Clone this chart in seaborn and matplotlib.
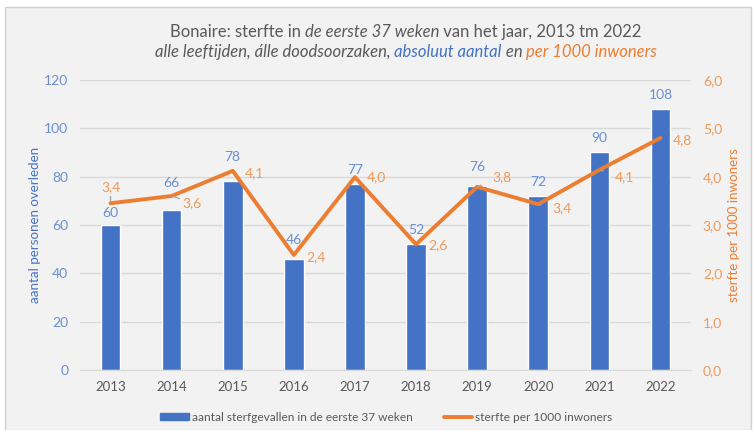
import numpy as np
import pandas as pd
import matplotlib
matplotlib.use("Agg")
import matplotlib.pyplot as plt
import seaborn as sns
from matplotlib.patches import Rectangle, Patch
from matplotlib.lines import Line2D

# data
years = ["2013", "2014", "2015", "2016", "2017", "2018", "2019", "2020", "2021", "2022"]
deaths = [60, 66, 78, 46, 77, 52, 76, 72, 90, 108]
rate = [3.45, 3.6, 4.12, 2.38, 3.99, 2.6, 3.79, 3.43, 4.14, 4.8]
rate_labels = ["3,4", "3,6", "4,1", "2,4", "4,0", "2,6", "3,8", "3,4", "4,1", "4,8"]
left_ticks = [0, 20, 40, 60, 80, 100, 120]
right_ticks = [0.0, 1.0, 2.0, 3.0, 4.0, 5.0, 6.0]

BLUE = "#4472c4"
BLUE_TXT = "#6a8fd0"
ORANGE = "#ed7d31"
ORANGE_TXT = "#f0995a"
GREY = "#595959"
BG = "#f2f2f2"

sns.set_style("white")
plt.rcParams["font.family"] = ["Lato", "DejaVu Sans"]

fig = plt.figure(figsize=(7.53, 4.30), dpi=100, facecolor="white")
fig.patches.append(Rectangle((0.007, 0.0), 0.99, 0.983, transform=fig.transFigure,
                             facecolor=BG, edgecolor="#d0d0d0", lw=1.0, zorder=-10))

ax = fig.add_axes([0.1062, 0.1395, 0.8115, 0.6745])
ax.set_facecolor("none")
df = pd.DataFrame({"year": years, "deaths": deaths, "rate": rate})

sns.barplot(data=df, x="year", y="deaths", color=BLUE, width=0.32, saturation=1, ax=ax, zorder=2)
ax.set_ylim(0, 120)
ax.set_yticks(left_ticks)
ax.yaxis.grid(True, color="#d9d9d9", lw=1.0, zorder=0)
ax.set_axisbelow(True)
for s in ["top", "right", "left"]:
    ax.spines[s].set_visible(False)
ax.spines["bottom"].set_color("#d9d9d9")
ax.tick_params(axis="y", colors=BLUE_TXT, labelsize=10, length=0, pad=8.5)
ax.tick_params(axis="x", colors=GREY, labelsize=9.5, length=0, pad=8)
ax.set_xlabel("")
ax.set_ylabel("aantal personen overleden", color=BLUE, fontsize=9.6, va="center")
ax.yaxis.set_label_coords(-0.0737, 0.5)
ax.set_xlim(-0.5, len(years) - 0.5)

# bar value labels, centre offset above the bar top in pixels
bar_off = [12, 27, 24, 19, 14, 14, 19, 14, 14, 14]
for i, v in enumerate(deaths):
    ax.annotate(str(v), (i, v), xytext=(0, bar_off[i]), textcoords="offset pixels",
                ha="center", va="center", color=BLUE_TXT, fontsize=10)

ax2 = ax.twinx()
sns.lineplot(x=np.arange(len(years)), y=rate, color=ORANGE, lw=2.8, ax=ax2, zorder=3)
ax2.set_ylim(0, 6)
ax2.set_yticks(right_ticks)
ax2.set_yticklabels([f"{t:.1f}".replace(".", ",") for t in right_ticks])
for s in ["top", "right", "left", "bottom"]:
    ax2.spines[s].set_visible(False)
ax2.tick_params(axis="y", colors=ORANGE_TXT, labelsize=10, length=0, pad=8.5)
ax2.set_ylabel("sterfte per 1000 inwoners", color=ORANGE, fontsize=9.6, va="center")
ax2.yaxis.set_label_coords(1.0704, 0.5)
ax2.set_xlim(-0.5, len(years) - 0.5)

# line value labels, offsets in pixels (dx to left edge, dy up)
lab_off = [(0, 16), (11, -7), (12, -2), (12, -2), (12, 0), (12, -1), (15, 10), (14, -4), (15, -7), (12, -2)]
leader = [True, True, False, False, False, False, True, True, True, False]
for i, (r, t) in enumerate(zip(rate, rate_labels)):
    dx, dy = lab_off[i]
    ax2.annotate(t, (i, r), xytext=(dx, dy), textcoords="offset pixels",
                 ha="center" if dx == 0 else "left", va="center",
                 color=ORANGE_TXT, fontsize=10,
                 arrowprops=dict(arrowstyle="-", color="#a6a6a6", lw=1, shrinkA=6, shrinkB=1)
                 if leader[i] else None)

# titles with mixed styles
t1 = fig.text(0.12, 0.926, "Bonaire: sterfte in ", fontsize=12, color=GREY, ha="left", va="center")
t1b = ax.annotate("de eerste 37 weken", xy=(1, 0), xycoords=t1, va="bottom", ha="left",
                  fontsize=12, color=GREY, style="italic")
t1c = ax.annotate(" van het jaar, 2013 tm 2022", xy=(1, 0), xycoords=t1b, va="bottom", ha="left",
                  fontsize=12, color=GREY)
t2 = fig.text(0.12, 0.879, "alle leeftijden, álle doodsoorzaken, ", fontsize=12, color=GREY,
              ha="left", va="center", style="italic")
t2b = ax.annotate("absoluut aantal", xy=(1, 0), xycoords=t2, va="bottom", ha="left",
                  fontsize=12, color=BLUE, style="italic")
t2c = ax.annotate(" en ", xy=(1, 0), xycoords=t2b, va="bottom", ha="left",
                  fontsize=12, color=GREY, style="italic")
t2d = ax.annotate("per 1000 inwoners", xy=(1, 0), xycoords=t2c, va="bottom", ha="left",
                  fontsize=12, color=ORANGE, style="italic")

# centre the title lines
fig.canvas.draw()
r = fig.canvas.get_renderer()
for parts in [(t1, t1b, t1c), (t2, t2b, t2c, t2d)]:
    x0 = parts[0].get_window_extent(r).x0
    x1 = parts[-1].get_window_extent(r).x1
    shift = (0.539 * fig.bbox.width - (x0 + x1) / 2) / fig.bbox.width
    px, py = parts[0].get_position()
    parts[0].set_position((px + shift, py))

handles = [Patch(color=BLUE, label="aantal sterfgevallen in de eerste 37 weken"),
           Line2D([], [], color=ORANGE, lw=2.8, label="sterfte per 1000 inwoners")]
fig.legend(handles=handles, loc="center", bbox_to_anchor=(0.513, 0.03), ncol=2, frameon=False,
           fontsize=8.6, labelcolor=GREY, handlelength=2.4, handleheight=0.5,
           handletextpad=0.25, columnspacing=2.6)

fig.savefig("out.png", dpi=100, facecolor="white")
